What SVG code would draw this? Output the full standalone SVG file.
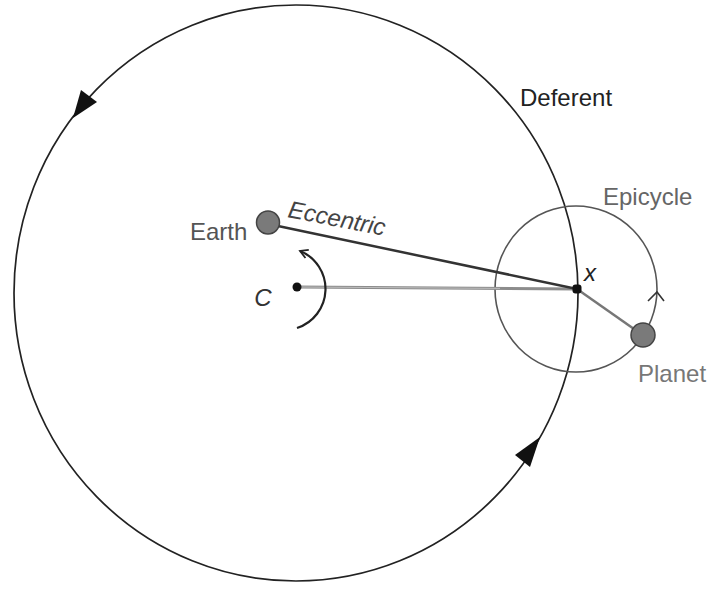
<svg xmlns="http://www.w3.org/2000/svg" width="723" height="591" viewBox="0 0 723 591">
  <defs>
    <style>
      .lbl { font-family: "Liberation Sans", Arial, sans-serif; font-size: 24px; }
      .body { fill: #7a7a7a; stroke: #444; stroke-width: 1.5; }
      .dot { fill: #111; }
    </style>
    <marker id="chev" viewBox="0 0 10 10" refX="8" refY="5" markerWidth="11" markerHeight="11" markerUnits="userSpaceOnUse" orient="auto">
      <path d="M1,1 L8,5 L1,9" fill="none" stroke="#222" stroke-width="1.6"/>
    </marker>
  </defs>
  <rect width="723" height="591" fill="#ffffff"/>

  <g id="deferent">
    <ellipse cx="296" cy="293" rx="282" ry="288" fill="none" stroke="#222" stroke-width="1.7"/>
    <polygon points="73,118 81,90 97,102" fill="#111"/>
    <polygon points="540,437 515,455 530,467" fill="#111"/>
    <text class="lbl" x="520" y="106" fill="#222">Deferent</text>
  </g>

  <g id="epicycle">
    <ellipse cx="576" cy="289" rx="81" ry="83" fill="none" stroke="#555" stroke-width="1.6"/>
    <path d="M648,301 L657,292 L664,301" fill="none" stroke="#333" stroke-width="1.6"/>
    <text class="lbl" x="603" y="205" fill="#666">Epicycle</text>
  </g>

  <g id="connectors">
    <line x1="297" y1="287" x2="577" y2="289" stroke="#8c8c8c" stroke-width="3"/>
    <line x1="297" y1="287" x2="500" y2="288.4" stroke="#bdbdbd" stroke-width="1"/>
    <line x1="278" y1="226" x2="577" y2="289" stroke="#333" stroke-width="2.5"/>
    <line x1="577" y1="289" x2="634" y2="329" stroke="#777" stroke-width="2.5"/>
    <path d="M297,328 A41,41 0 0 0 300,251" fill="none" stroke="#222" stroke-width="2.2" marker-end="url(#chev)"/>
  </g>

  <g id="earth">
    <circle class="body" cx="268" cy="222.5" r="11.5"/>
    <text class="lbl" x="190" y="240" fill="#555">Earth</text>
    <text class="lbl" x="287" y="217" fill="#444" font-style="italic" transform="rotate(11 287 217)">Eccentric</text>
  </g>

  <g id="center-c">
    <circle class="dot" cx="297" cy="287" r="4.5"/>
    <text class="lbl" x="263" y="306" fill="#333" font-style="italic" text-anchor="middle">C</text>
  </g>

  <g id="point-x">
    <rect class="dot" x="572.5" y="284.5" width="9" height="9" rx="3"/>
    <text class="lbl" x="590" y="281" fill="#222" font-style="italic" text-anchor="middle">x</text>
  </g>

  <g id="planet">
    <circle class="body" cx="643" cy="335" r="12"/>
    <text class="lbl" x="638" y="382" fill="#777">Planet</text>
  </g>
</svg>
